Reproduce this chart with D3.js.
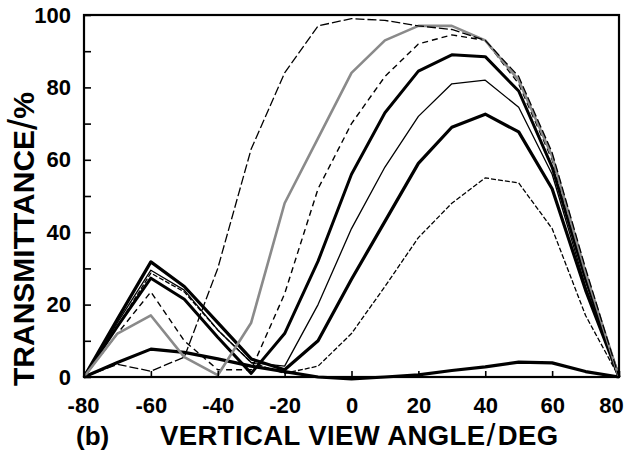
<!DOCTYPE html>
<html><head><meta charset="utf-8">
<script src="https://cdn.jsdelivr.net/npm/d3@7"></script>
<style>body{margin:0;background:#fff}svg{display:block}text{font-family:"Liberation Sans",Arial,sans-serif;font-weight:bold;fill:#000}</style>
</head><body><svg id="c" width="628" height="452"></svg>
<script>
const angles = [-80,-70,-60,-50,-40,-30,-20,-10,0,10,20,30,40,50,60,70,80];
const curveA = [0,3.5,1.6,5.5,30,63,84,97,99,98.5,97,96,93,83,62,30,0];
const curveB = [0,12,17,5.5,0.5,15,48,66,84,93,97,97,93,82,61,29,0];
const curveC = [0,12,23.5,10,2,2,23,52,70,83,92,94.5,93,81,60,28,0];
const curveD = [0,14,27.3,21.5,11,1,12,32,56,73,84.5,89,88.5,79,58,27,0];
const curveE = [0,15,29.5,24,13,4,3,20,41,58,72,81,82,74.5,56,25,0];
const curveF = [0,16,31.8,25,15,5,2,10,27,43,59,69,72.6,67.7,52,24,0];
const curveH = [0,14,28.7,23.5,13,4,1,3,12,25,38.5,48,55,53.6,41,17,0];
const curveK = [0,4,7.7,6.8,5,3,1.5,0,-0.5,0,0.6,1.8,2.8,4.1,3.9,1.5,0];
const xTicks = [-80,-60,-40,-20,0,20,40,60,80];
const yTicks = [0,20,40,60,80,100];
const yMinor = [10,30,50,70,90];

const series = [
  {v:curveK, c:"#000", w:3.2, d:null},
  {v:curveH, c:"#000", w:1.3, d:"5,2"},
  {v:curveF, c:"#000", w:3.2, d:null},
  {v:curveE, c:"#000", w:1.3, d:null},
  {v:curveD, c:"#000", w:3, d:null},
  {v:curveC, c:"#000", w:1.4, d:"6,4"},
  {v:curveB, c:"#8a8a8a", w:2.6, d:null},
  {v:curveA, c:"#000", w:1.3, d:"9,3"}
];

const svg = d3.select("#c");
const x = d3.scaleLinear().domain([-80,80]).range([84,619]);
const y = d3.scaleLinear().domain([0,100]).range([377,15]);

const line = d3.line().x((d,i)=>x(angles[i])).y(d=>y(d));
svg.append("g").selectAll("path").data(series).join("path")
  .attr("d", s=>line(s.v)).attr("fill","none")
  .attr("stroke", s=>s.c).attr("stroke-width", s=>s.w)
  .attr("stroke-dasharray", s=>s.d).attr("stroke-linejoin","round");

svg.append("rect").attr("x",x(-80)).attr("y",y(100))
  .attr("width",x(80)-x(-80)).attr("height",y(0)-y(100))
  .attr("fill","none").attr("stroke","#000").attr("stroke-width",2.2);

const fmt = d => String(d);
const gx = svg.append("g").attr("transform",`translate(0,${y(0)})`)
  .call(d3.axisBottom(x).tickValues(xTicks).tickSize(-6).tickPadding(20).tickFormat(fmt));
gx.select(".domain").remove();
gx.selectAll("line").attr("stroke-width",1.6);
gx.selectAll("text").attr("font-size",22).attr("font-family","Liberation Sans, Arial, sans-serif")
  .attr("font-weight","bold").attr("fill","#000")
  .attr("dx", d => d===80 ? -8 : (d===-80 ? -1 : 0));

const gy = svg.append("g").attr("transform",`translate(${x(-80)},0)`)
  .call(d3.axisLeft(y).tickValues(yTicks.concat(yMinor)).tickSize(-7).tickPadding(13)
    .tickFormat(d=> yTicks.includes(d) ? fmt(d) : ""));
gy.select(".domain").remove();
gy.selectAll("line").attr("stroke-width",1.6);
gy.selectAll("text").attr("font-size",22).attr("font-family","Liberation Sans, Arial, sans-serif").attr("font-weight","bold").attr("fill","#000");

svg.append("text").attr("x",76).attr("y",445).attr("font-size",26).text("(b)");
const xt = svg.append("text").attr("x",160).attr("y",445).attr("font-size",27.5).attr("letter-spacing",0.4);
xt.append("tspan").text("VERTICAL VIEW ANGLE");
xt.append("tspan").attr("font-weight","normal").attr("font-size",32).attr("dx",1).attr("dy",1).text("/");
xt.append("tspan").attr("dy",-1).attr("dx",2).text("DEG");

const yt = svg.append("text").attr("transform","translate(34,386) rotate(-90)").attr("font-size",30);
yt.append("tspan").text("TRANSMITTANCE");
yt.append("tspan").attr("font-weight","normal").attr("font-size",40).attr("dx",0).attr("dy",3).text("/");
yt.append("tspan").attr("dy",-3).text("%");
</script></body></html>
